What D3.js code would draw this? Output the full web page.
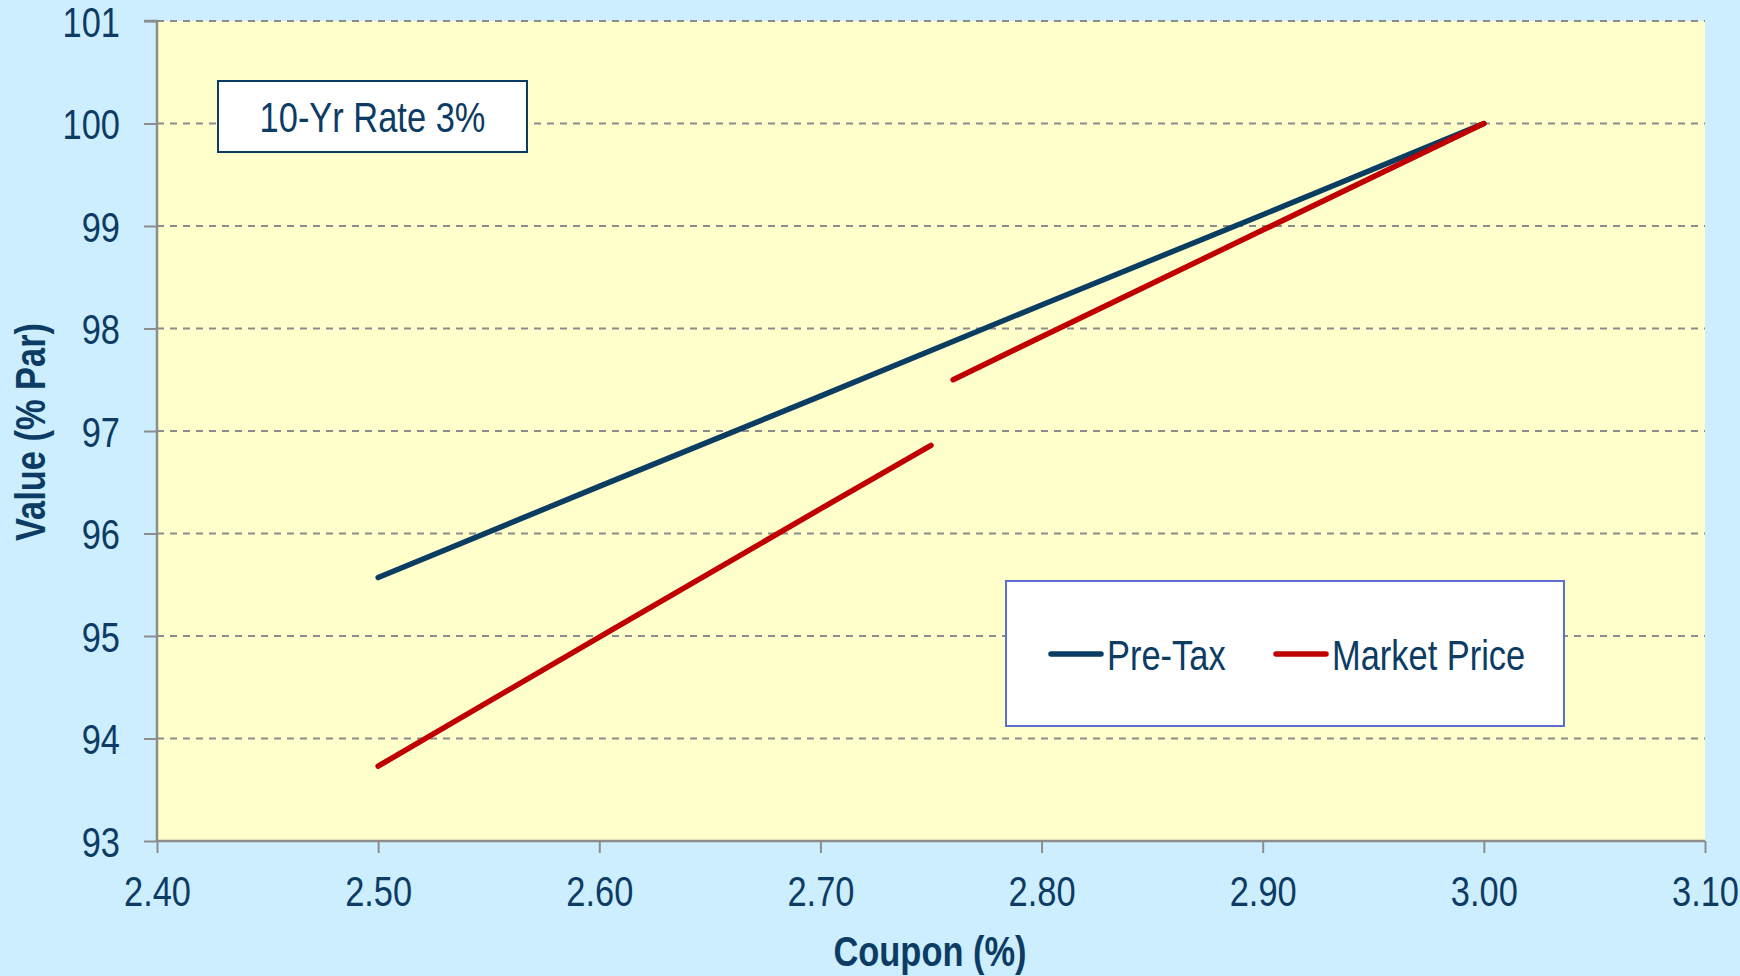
<!DOCTYPE html>
<html><head><meta charset="utf-8">
<script src="https://cdn.jsdelivr.net/npm/d3@7"></script>
<style>
html,body{margin:0;padding:0;background:#cceeff;}
svg{display:block;}
</style></head>
<body>
<svg id="chart" width="1740" height="976"></svg>
<script>
// ---- data ----
const xTickValues = [2.40, 2.50, 2.60, 2.70, 2.80, 2.90, 3.00, 3.10];
const yTickValues = [93, 94, 95, 96, 97, 98, 99, 100, 101];
const preTaxCoupons = [2.50, 2.60, 2.70, 2.80, 2.90, 3.00];
const preTaxValues  = [95.57, 96.46, 97.34, 98.23, 99.11, 100.00];
const marketCoupons = [2.50, 2.60, 2.70, 2.75, 2.755, 2.76, 2.80, 2.90, 3.00];
const marketValues  = [93.73, 94.99, 96.24, 96.86, null, 97.50, 97.92, 98.96, 100.00];
const seriesNames = ["Pre-Tax", "Market Price"];
const annotationText = "10-Yr Rate 3%";
const xTitle = "Coupon (%)";
const yTitle = "Value (% Par)";

// ---- layout ----
const W = 1740, H = 976;
const M = {left: 157, right: 1705, top: 21, bottom: 841};
const textColor = "#0c3c64";
const FS = 42;
const FONT = "'Liberation Sans', Arial, sans-serif";
const SX = 0.82; // condensed look (Arial Narrow-like)
const svg = d3.select("#chart");

function squeeze(sel) {
  sel.each(function() {
    const t = d3.select(this);
    const x = +t.attr("x") || 0, y = +t.attr("y") || 0;
    const prev = t.attr("transform") || "";
    t.attr("x", null).attr("y", null)
     .attr("transform", `${prev} translate(${x},${y}) scale(${SX},1)`);
  });
}

svg.append("rect").attr("width", W).attr("height", H).attr("fill", "#cceeff");

const x = d3.scaleLinear().domain([2.40, 3.10]).range([M.left, M.right]);
const y = d3.scaleLinear().domain([93, 101]).range([M.bottom, M.top]);

svg.append("rect").attr("x", M.left).attr("y", M.top)
  .attr("width", M.right - M.left).attr("height", M.bottom - M.top)
  .attr("fill", "#ffffcc");

// gridlines
svg.append("g").selectAll("line").data(yTickValues.filter(v => v > 93)).join("line")
  .attr("x1", M.left).attr("x2", M.right)
  .attr("y1", d => y(d)).attr("y2", d => y(d))
  .attr("stroke", "#8c8c8c").attr("stroke-width", 2).attr("stroke-dasharray", "7,6");

// axes
const xAxis = svg.append("g").attr("transform", `translate(0,${M.bottom})`)
  .call(d3.axisBottom(x).tickValues(xTickValues).tickFormat(d3.format(".2f")).tickSize(12).tickPadding(23));
const yAxis = svg.append("g").attr("transform", `translate(${M.left},0)`)
  .call(d3.axisLeft(y).tickValues(yTickValues).tickFormat(d3.format("d")).tickSize(13).tickPadding(24));
[xAxis, yAxis].forEach(a => {
  a.select(".domain").attr("stroke", "#8c8c8c").attr("stroke-width", 2.5);
  a.selectAll(".tick line").attr("stroke", "#8c8c8c").attr("stroke-width", 2);
  a.selectAll(".tick text").attr("fill", textColor).attr("font-family", FONT).attr("font-size", FS);
});
yAxis.select(".domain").attr("d", `M-13,${M.top}H0V${M.bottom}`);
xAxis.select(".domain").attr("d", `M${M.left},0H${M.right}`);
yAxis.selectAll(".tick text").attr("dy", "0.36em");
xAxis.selectAll(".tick text").attr("dy", "0.72em");
squeeze(xAxis.selectAll(".tick text"));
squeeze(yAxis.selectAll(".tick text"));

// lines
const preTaxData = preTaxCoupons.map((c, i) => ({c, v: preTaxValues[i]}));
const marketData = marketCoupons.map((c, i) => ({c, v: marketValues[i]}));
const line = d3.line().defined(d => d.v !== null).x(d => x(d.c)).y(d => y(d.v));
svg.append("path").datum(preTaxData).attr("d", line)
  .attr("fill", "none").attr("stroke", "#0b3d63").attr("stroke-width", 5.5)
  .attr("stroke-linecap", "round").attr("stroke-linejoin", "round");
svg.append("path").datum(marketData).attr("d", line)
  .attr("fill", "none").attr("stroke", "#c00000").attr("stroke-width", 5.5)
  .attr("stroke-linecap", "round").attr("stroke-linejoin", "round");

// annotation box
svg.append("rect").attr("x", 218).attr("y", 81).attr("width", 309).attr("height", 71)
  .attr("fill", "#ffffff").attr("stroke", "#0b3d63").attr("stroke-width", 2);
const ann = svg.append("text").attr("x", 372.5).attr("y", 132).attr("text-anchor", "middle")
  .attr("font-family", FONT).attr("font-size", FS).attr("fill", textColor).text(annotationText);
squeeze(ann);

// legend
svg.append("rect").attr("x", 1006).attr("y", 581).attr("width", 558).attr("height", 145)
  .attr("fill", "#ffffff").attr("stroke", "#5a6fd1").attr("stroke-width", 2);
const legendColors = ["#0b3d63", "#c00000"];
const legendX = [1051, 1276];
const ly = 654;
seriesNames.forEach((name, i) => {
  svg.append("line").attr("x1", legendX[i]).attr("x2", legendX[i] + 50)
    .attr("y1", ly).attr("y2", ly).attr("stroke", legendColors[i])
    .attr("stroke-width", 5.5).attr("stroke-linecap", "round");
  const t = svg.append("text").attr("x", legendX[i] + 56).attr("y", ly + 16)
    .attr("font-family", FONT).attr("font-size", FS).attr("fill", textColor).text(name);
  squeeze(t);
});

// axis titles
const xt = svg.append("text").attr("x", 930).attr("y", 966)
  .attr("text-anchor", "middle").attr("font-family", FONT).attr("font-weight", "bold")
  .attr("font-size", FS).attr("fill", textColor).text(xTitle);
squeeze(xt);
const yt = svg.append("text").attr("transform", `translate(45,432) rotate(-90)`)
  .attr("text-anchor", "middle").attr("font-family", FONT).attr("font-weight", "bold")
  .attr("font-size", FS).attr("fill", textColor).text(yTitle);
squeeze(yt);
</script>
</body></html>
